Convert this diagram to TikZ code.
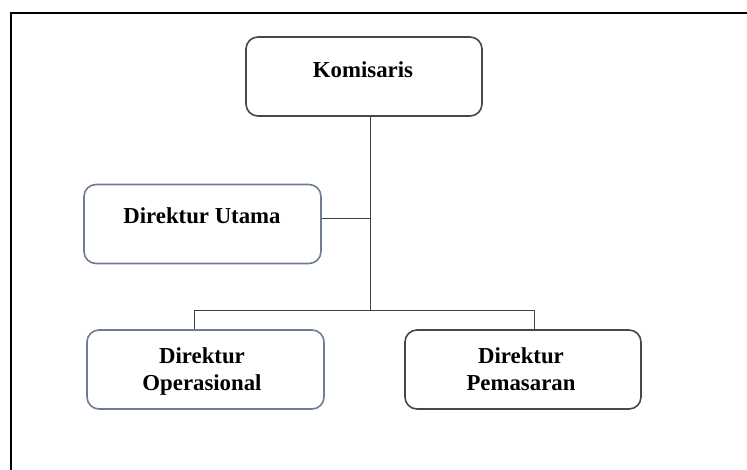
\documentclass[tikz,border=0pt]{standalone}
\usepackage{fontspec}
\setmainfont{Liberation Serif}
\begin{document}
\begin{tikzpicture}[x=1pt,y=-1pt,
  box/.style={draw, rounded corners=12pt, line width=1.6pt, minimum width=#1, minimum height=79pt, inner sep=0pt},
  box/.default=236pt,
  dark/.style={draw=black!72},
  blue/.style={draw=blueborder},
  txt/.style={font=\fontsize{22.8}{27}\selectfont\bfseries, align=center, inner sep=0pt},
  conn/.style={draw=black!75, line width=1pt}]
\definecolor{blueborder}{HTML}{6E7D94}
\useasboundingbox (0,0) rectangle (747,469);
% frame
\coordinate (fbl) at (11,469);
\coordinate (ftl) at (11,13);
\coordinate (ftr) at (747,13);
\draw[line width=2.6pt, line cap=rect] (fbl) -- (ftl) -- (ftr);
% boxes
\node[box, dark] (kom) at (364,76.5) {};
\node[box=237pt, blue] (du) at (202.5,224) {};
\node[box=237pt, blue] (dop) at (205.5,369.5) {};
\node[box, dark] (dpm) at (523,369.5) {};
% texts
\node[txt, anchor=base] (tkom) at (363,77) {Komisaris};
\node[txt, anchor=base] (tdu) at (202,223) {Direktur Utama};
\node[txt, anchor=base] (tdop1) at (202,363) {Direktur};
\node[txt, anchor=base] (tdop2) at (202,390) {Operasional};
\node[txt, anchor=base] (tdpm1) at (521,363) {Direktur};
\node[txt, anchor=base] (tdpm2) at (521,390) {Pemasaran};
% connectors
\coordinate (jtop) at (370.5,116);
\coordinate (jmid) at (370.5,218);
\coordinate (jbot) at (370.5,310);
\coordinate (jl) at (194.5,310);
\coordinate (jr) at (534,310);
\draw[conn] (jtop) -- (jbot);
\draw[conn] (du.east |- jmid) -- (jmid);
\draw[conn] (jl) -- (jr);
\draw[conn] (jl) -- (jl |- dop.north);
\draw[conn] (jr) -- (jr |- dpm.north);
\end{tikzpicture}
\end{document}
